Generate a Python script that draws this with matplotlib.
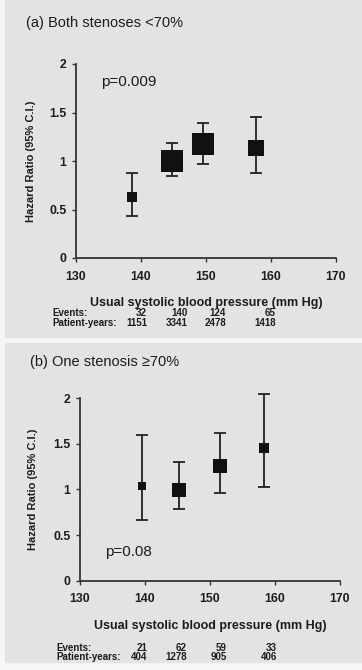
#!/usr/bin/env python3
"""Hazard ratio by usual systolic blood pressure, two stenosis groups."""

import matplotlib.pyplot as plt
import numpy as np
from matplotlib.patches import Rectangle

plt.rcParams['font.family'] = ['Liberation Sans', 'DejaVu Sans']

# (a) Both stenoses <70%
sbp_a = [138.6, 144.8, 149.5, 157.7]
hr_a = [0.63, 1.00, 1.18, 1.13]
lo_a = [0.43, 0.85, 0.97, 0.88]
hi_a = [0.88, 1.19, 1.39, 1.45]
events_a = [32, 140, 124, 65]
pyears_a = [1151, 3341, 2478, 1418]

# (b) One stenosis >=70%
sbp_b = [139.5, 145.3, 151.5, 158.3]
hr_b = [1.04, 0.99, 1.26, 1.45]
lo_b = [0.66, 0.78, 0.96, 1.03]
hi_b = [1.59, 1.30, 1.62, 2.04]
events_b = [21, 62, 59, 33]
pyears_b = [404, 1278, 905, 406]

xticks = [130, 140, 150, 160, 170]
yticks = [0, 0.5, 1, 1.5, 2]
yticklabels = ['0', '0.5', '1', '1.5', '2']

BG = '#e3e3e3'
INK = '#1c1c1c'
W, H = 362, 670


def draw_panel(fig, rect, sbp, hr, lo, hi, events, pyears, title, title_xy,
               ptext, pxy, xlab_y, num_x, row_y, label_x):
    ax = fig.add_axes(rect)
    ax.set_facecolor('none')
    for s in ('top', 'right'):
        ax.spines[s].set_visible(False)
    for s in ('left', 'bottom'):
        ax.spines[s].set_color('#333333')
        ax.spines[s].set_linewidth(1.3)
    ax.set_xlim(130, 170)
    ax.set_ylim(0, 2)
    ax.set_xticks(xticks)
    ax.set_yticks(yticks)
    ax.set_yticklabels(yticklabels)
    ax.tick_params(length=3, width=1, color='#333333', labelsize=8.8,
                   labelcolor=INK)
    ax.tick_params(axis='x', pad=6)
    ax.tick_params(axis='y', pad=4)
    for lab in ax.get_xticklabels() + ax.get_yticklabels():
        lab.set_fontweight('bold')

    hr = np.array(hr)
    yerr = [hr - np.array(lo), np.array(hi) - hr]
    _, caps, bars = ax.errorbar(sbp, hr, yerr=yerr, fmt='none',
                                ecolor='#222222', elinewidth=1.3, capsize=4,
                                capthick=1.3, zorder=2)
    for art in list(caps) + list(bars):
        art.set_clip_on(False)
    side_px = 1.9 * np.sqrt(events)
    for x, y, s in zip(sbp, hr, side_px):
        ax.plot([x], [y], marker='s', markersize=s * 72 / 100, color='#111111',
                markeredgewidth=0, linestyle='none', zorder=3)

    ax.set_ylabel('Hazard Ratio (95% C.I.)', fontsize=8, fontweight='bold',
                  color=INK)
    ax.yaxis.set_label_coords(label_x, 0.5)
    ax.set_xlabel('Usual systolic blood pressure (mm Hg)', fontsize=9,
                  fontweight='bold', color=INK)
    ax.xaxis.set_label_coords(0.5, xlab_y)

    ax.text(pxy[0], pxy[1], ptext, transform=ax.transAxes, fontsize=11,
            color=INK, va='center', ha='left')
    fig.text(title_xy[0], title_xy[1], title, fontsize=10.5, color=INK,
             va='center', ha='left')

    # events / patient-years rows under the axis
    ax.text(-0.092, row_y[0], 'Events:', transform=ax.transAxes, fontsize=7,
            fontweight='bold', color=INK, va='center', ha='left')
    ax.text(-0.092, row_y[1], 'Patient-years:', transform=ax.transAxes,
            fontsize=7, fontweight='bold', color=INK, va='center', ha='left')
    for xf, e, p in zip(num_x, events, pyears):
        ax.text(xf, row_y[0], str(e), transform=ax.transAxes, fontsize=7,
                fontweight='bold', color=INK, va='center', ha='right')
        ax.text(xf, row_y[1], str(p), transform=ax.transAxes, fontsize=7,
                fontweight='bold', color=INK, va='center', ha='right')
    return ax


fig = plt.figure(figsize=(W / 100, H / 100), dpi=100)
fig.patch.set_facecolor('#f6f6f6')
fig.add_artist(Rectangle((5 / W, 1 - 337 / H), 1, 337 / H,
                         transform=fig.transFigure, color=BG, zorder=0))
fig.add_artist(Rectangle((5 / W, 1 - 662 / H), 1, 319 / H,
                         transform=fig.transFigure, color=BG, zorder=0))

draw_panel(fig, [76 / W, 1 - 258 / H, 260 / W, 194 / H],
           sbp_a, hr_a, lo_a, hi_a, events_a, pyears_a,
           '(a) Both stenoses <70%', (26 / W, 1 - 23 / H),
           'p=0.009', (0.096, 0.907), -0.201,
           [0.273, 0.431, 0.577, 0.769], (-0.282, -0.335), -0.154)

draw_panel(fig, [80 / W, 1 - 580.7 / H, 260 / W, 182.7 / H],
           sbp_b, hr_b, lo_b, hi_b, events_b, pyears_b,
           '(b) One stenosis \u226570%', (30 / W, 1 - 362 / H),
           'p=0.08', (0.096, 0.157), -0.215,
           [0.258, 0.412, 0.565, 0.757], (-0.368, -0.418), -0.162)

fig.savefig('out.png', dpi=100, facecolor=fig.get_facecolor())
